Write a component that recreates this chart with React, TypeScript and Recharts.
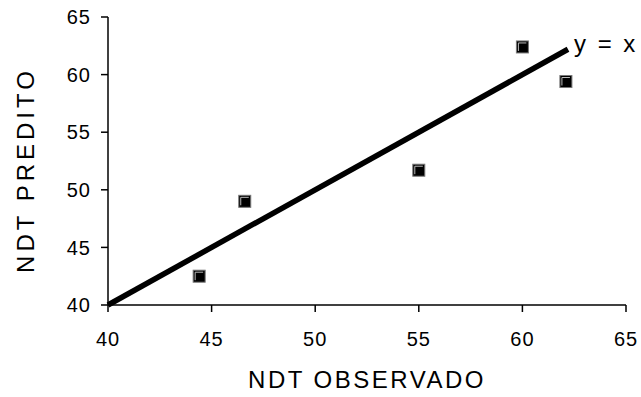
import React from 'react'
import {
  ScatterChart,
  Scatter,
  XAxis,
  YAxis,
  ReferenceLine,
  Label,
} from 'recharts'

// observed vs predicted NDT
const observed = [44.4, 46.6, 55.0, 60.0, 62.1]
const predicted = [42.5, 49.0, 51.7, 62.4, 59.4]
const xTicks = [40, 45, 50, 55, 60, 65]
const yTicks = [40, 45, 50, 55, 60, 65]
const identityEnds = [40, 62.2]

const points = observed.map((x, i) => ({ x, y: predicted[i] }))

const FONT = 'Liberation Sans, Arial, sans-serif'

// little bevelled square like the Excel marker
const SquareMarker = (props: any) => {
  const { cx, cy } = props
  if (cx == null || cy == null) return null
  const s = 12
  return (
    <g>
      <rect x={cx - s / 2} y={cy - s / 2} width={s} height={s} fill="#000" stroke="#777" strokeWidth={1} />
      <path
        d={`M${cx - s / 2 + 2},${cy + s / 2 - 2} L${cx - s / 2 + 2},${cy - s / 2 + 2} L${cx + s / 2 - 2},${cy - s / 2 + 2}`}
        fill="none"
        stroke="#bbb"
        strokeWidth={1}
      />
    </g>
  )
}

const tickStyle = { fontSize: 20, fill: '#000', fontFamily: FONT, letterSpacing: 1 }

export default function App() {
  return (
    <div style={{ position: 'absolute', left: 0, top: 0, background: '#fff' }}>
      <ScatterChart width={641} height={397} margin={{ top: 17, right: 15, bottom: 0, left: 0 }}>
        <XAxis
          type="number"
          dataKey="x"
          domain={[40, 65]}
          ticks={xTicks}
          allowDataOverflow
          height={92}
          tickSize={7}
          tickMargin={20}
          tick={tickStyle}
          stroke="#000"
          strokeWidth={1.5}
        >
          <Label
            content={(p: any) => {
              const vb = p.viewBox
              return (
                <text
                  x={vb.x + vb.width / 2}
                  y={vb.y + vb.height - 9}
                  textAnchor="middle"
                  fontSize={24}
                  letterSpacing={2.5}
                  fontFamily={FONT}
                  fill="#000"
                >
                  NDT OBSERVADO
                </text>
              )
            }}
          />
        </XAxis>
        <YAxis
          type="number"
          dataKey="y"
          domain={[40, 65]}
          ticks={yTicks}
          allowDataOverflow
          width={108}
          tickSize={7}
          tickMargin={10}
          tick={tickStyle}
          stroke="#000"
          strokeWidth={1.5}
        >
          <Label
            content={(p: any) => {
              const vb = p.viewBox
              const cx = 34
              const cy = vb.y + vb.height / 2 + 9
              return (
                <text
                  x={cx}
                  y={cy}
                  transform={`rotate(-90, ${cx}, ${cy})`}
                  textAnchor="middle"
                  fontSize={24}
                  letterSpacing={4}
                  fontFamily={FONT}
                  fill="#000"
                >
                  NDT PREDITO
                </text>
              )
            }}
          />
        </YAxis>
        <ReferenceLine
          segment={[
            { x: identityEnds[0], y: identityEnds[0] },
            { x: identityEnds[1], y: identityEnds[1] },
          ]}
          stroke="#000"
          strokeWidth={5.5}
          ifOverflow="visible"
        >
          <Label
            content={(p: any) => {
              const vb = p.viewBox
              return (
                <text
                  x={vb.x + vb.width + 6}
                  y={vb.y + 3}
                  fontSize={24}
                  letterSpacing={2.5}
                  fontFamily={FONT}
                  fill="#000"
                >
                  y = x
                </text>
              )
            }}
          />
        </ReferenceLine>
        <Scatter data={points} shape={<SquareMarker />} isAnimationActive={false} />
      </ScatterChart>
    </div>
  )
}
